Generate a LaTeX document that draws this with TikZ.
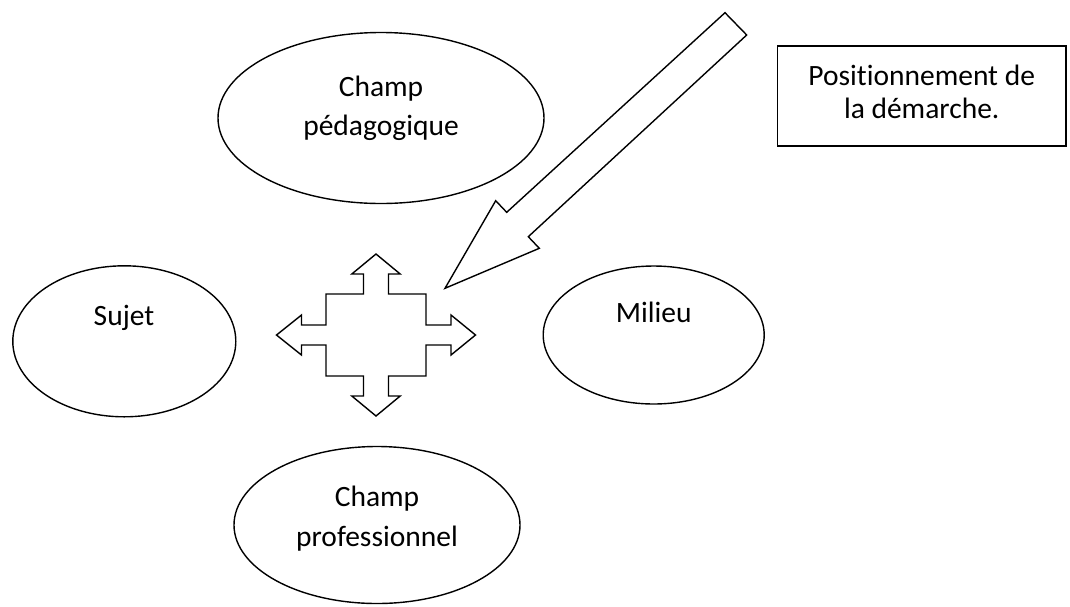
\documentclass[tikz,border=0pt]{standalone}
\usepackage{fontspec}
\setmainfont{Carlito}[Ligatures=NoCommon]
\usetikzlibrary{shapes.geometric}

\tikzset{
  blob/.style={draw, ellipse, line width=1.4pt, inner sep=0pt},
  lbl/.style={anchor=base, inner sep=0pt, font=\fontsize{29.5}{34}\selectfont},
  outline/.style={draw, line width=1.4pt, line join=miter},
}

\begin{document}
\begin{tikzpicture}[x=1pt, y=-1pt]
  \useasboundingbox (0,0) rectangle (1070,606);

  % ellipses
  \node[blob, minimum width=326pt, minimum height=171pt] (ped) at (381,118) {};
  \node[lbl] (pedA) at (381,96) {Champ};
  \node[lbl] (pedB) at (381,135) {pédagogique};

  \node[blob, minimum width=223pt, minimum height=151pt] (suj) at (124.3,341.3) {};
  \node[lbl] (sujA) at (124,325) {Sujet};

  \node[blob, minimum width=221pt, minimum height=138pt] (mil) at (653.7,335) {};
  \node[lbl] (milA) at (653.7,322.7) {Milieu};

  \node[blob, minimum width=286pt, minimum height=157pt] (pro) at (377,525) {};
  \node[lbl] (proA) at (377,506.7) {Champ};
  \node[lbl] (proB) at (377,546.7) {professionnel};

  % label box
  \draw[line width=1.4pt] (777.3,46) rectangle (1066,146);
  \node[lbl] (boxA) at (921.7,85) {Positionnement de};
  \node[lbl] (boxB) at (921.7,118.3) {la démarche.};

  % four-way arrow
  \draw[outline]
    (376,254) -- (400.2,274) -- (388.5,274) -- (388.5,294) -- (426,294)
    -- (426,325) -- (451,325) -- (451,315) -- (475.5,335) -- (451,355)
    -- (451,345) -- (426,345) -- (426,376) -- (388.5,376) -- (388.5,396)
    -- (400.2,396) -- (376,416) -- (351.8,396) -- (363.5,396) -- (363.5,376)
    -- (326,376) -- (326,345) -- (301.5,345) -- (301.5,355) -- (276.5,335)
    -- (301.5,315) -- (301.5,325) -- (326,325) -- (326,294) -- (363.5,294)
    -- (363.5,274) -- (351.8,274) -- cycle;

  % pointing arrow
  \draw[outline]
    (725,12.7) -- (746.7,35) -- (528.3,236.7) -- (539.3,248.3) -- (445,288.3)
    -- (495.7,200.7) -- (506.7,212.3) -- cycle;
\end{tikzpicture}
\end{document}
